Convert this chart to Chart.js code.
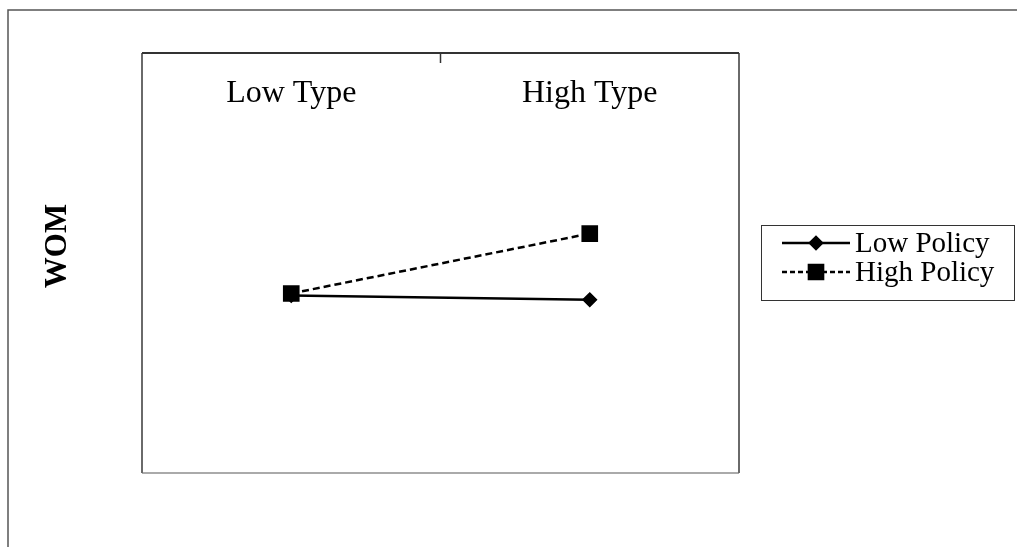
<!DOCTYPE html>
<html>
<head>
<meta charset="utf-8">
<script src="https://cdn.jsdelivr.net/npm/chart.js@4.4.0/dist/chart.umd.min.js"></script>
<style>
    html, body { margin: 0; padding: 0; background: #fff; }
    #wrap { width: 1017px; height: 547px; position: relative; }
</style>
</head>
<body>
<div id="wrap"><canvas id="chart"></canvas></div>
<script>
const categories = ['Low Type', 'High Type'];
const seriesNames = ['Low Policy', 'High Policy'];
const lowPolicy = [2.69, 2.65];
const highPolicy = [2.71, 3.28];
const yTitle = 'WOM';

const serif = "'Liberation Serif', 'Times New Roman', serif";

// frame, axis labels and legend drawn on top of the chart
const decorPlugin = {
    id: 'decor',
    afterDraw(chart) {
        const ctx = chart.ctx;
        const area = chart.chartArea;
        const x = chart.scales.x;
        ctx.save();

        // outer frame (runs off the right and bottom edges)
        ctx.strokeStyle = '#555';
        ctx.lineWidth = 1.5;
        ctx.strokeRect(8, 10, 1030, 560);

        // plot border
        ctx.lineWidth = 2;
        ctx.strokeStyle = '#aaa';
        ctx.beginPath();
        ctx.moveTo(area.left, area.bottom);
        ctx.lineTo(area.right, area.bottom);
        ctx.stroke();
        ctx.strokeStyle = '#6a6a6a';
        ctx.beginPath();
        ctx.moveTo(area.left, area.top);
        ctx.lineTo(area.left, area.bottom);
        ctx.moveTo(area.right, area.top);
        ctx.lineTo(area.right, area.bottom);
        ctx.stroke();
        ctx.strokeStyle = '#333';
        ctx.beginPath();
        ctx.moveTo(area.left, area.top);
        ctx.lineTo(area.right, area.top);
        ctx.stroke();

        // tick between the two categories
        const mid = (x.getPixelForValue(0) + x.getPixelForValue(1)) / 2;
        ctx.lineWidth = 1.5;
        ctx.beginPath();
        ctx.moveTo(mid, area.top);
        ctx.lineTo(mid, area.top + 10);
        ctx.stroke();

        // category labels inside the plot
        ctx.fillStyle = '#000';
        ctx.font = '32px ' + serif;
        ctx.textAlign = 'center';
        ctx.textBaseline = 'alphabetic';
        categories.forEach((c, i) => {
            ctx.fillText(c, x.getPixelForValue(i), area.top + 49);
        });

        // y title
        ctx.save();
        ctx.translate(area.left - 84, (area.top + area.bottom) / 2 - 17);
        ctx.rotate(-Math.PI / 2);
        ctx.font = 'bold 31px ' + serif;
        ctx.textAlign = 'center';
        ctx.textBaseline = 'middle';
        ctx.fillText(yTitle, 0, 0);
        ctx.restore();

        // legend
        const lx = 761, ly = 225, lw = 253, lh = 75;
        ctx.strokeStyle = '#333';
        ctx.lineWidth = 1;
        ctx.strokeRect(lx + 0.5, ly + 0.5, lw, lh);
        ctx.font = '29px ' + serif;
        ctx.textAlign = 'left';
        ctx.textBaseline = 'middle';
        chart.data.datasets.forEach((ds, i) => {
            const y = ly + 18 + i * 29;
            ctx.strokeStyle = ds.borderColor;
            ctx.lineWidth = 2.5;
            ctx.setLineDash(ds.borderDash ? [5, 3] : []);
            ctx.beginPath();
            ctx.moveTo(lx + 21, y);
            ctx.lineTo(lx + 89, y);
            ctx.stroke();
            ctx.setLineDash([]);
            Chart.helpers.drawPoint(ctx, {
                pointStyle: ds.pointStyle,
                radius: ds.pointRadius,
                borderWidth: 1
            }, lx + 55, y);
            ctx.fillStyle = '#000';
            ctx.fillText(ds.label, lx + 94, y + 1);
        });
        ctx.restore();
    }
};

new Chart(document.getElementById('chart'), {
    type: 'line',
    data: {
        labels: categories,
        datasets: [
            {
                label: seriesNames[0],
                data: lowPolicy,
                borderColor: '#000',
                backgroundColor: '#000',
                pointBackgroundColor: '#000',
                pointBorderColor: '#000',
                borderWidth: 2.5,
                pointStyle: 'rectRot',
                pointRadius: 6,
                order: 1
            },
            {
                label: seriesNames[1],
                data: highPolicy,
                borderColor: '#000',
                backgroundColor: '#000',
                pointBackgroundColor: '#000',
                pointBorderColor: '#000',
                borderWidth: 2.5,
                borderDash: [7, 4],
                pointStyle: 'rect',
                pointRadius: 10,
                order: 0
            }
        ]
    },
    options: {
        responsive: true,
        maintainAspectRatio: false,
        devicePixelRatio: 1,
        animation: false,
        layout: { padding: { left: 142, top: 53, right: 278, bottom: 74 } },
        scales: {
            x: { type: 'category', offset: true, display: false },
            y: { min: 1, max: 5, display: false }
        },
        plugins: {
            legend: { display: false },
            tooltip: { enabled: false }
        }
    },
    plugins: [decorPlugin]
});
</script>
</body>
</html>
